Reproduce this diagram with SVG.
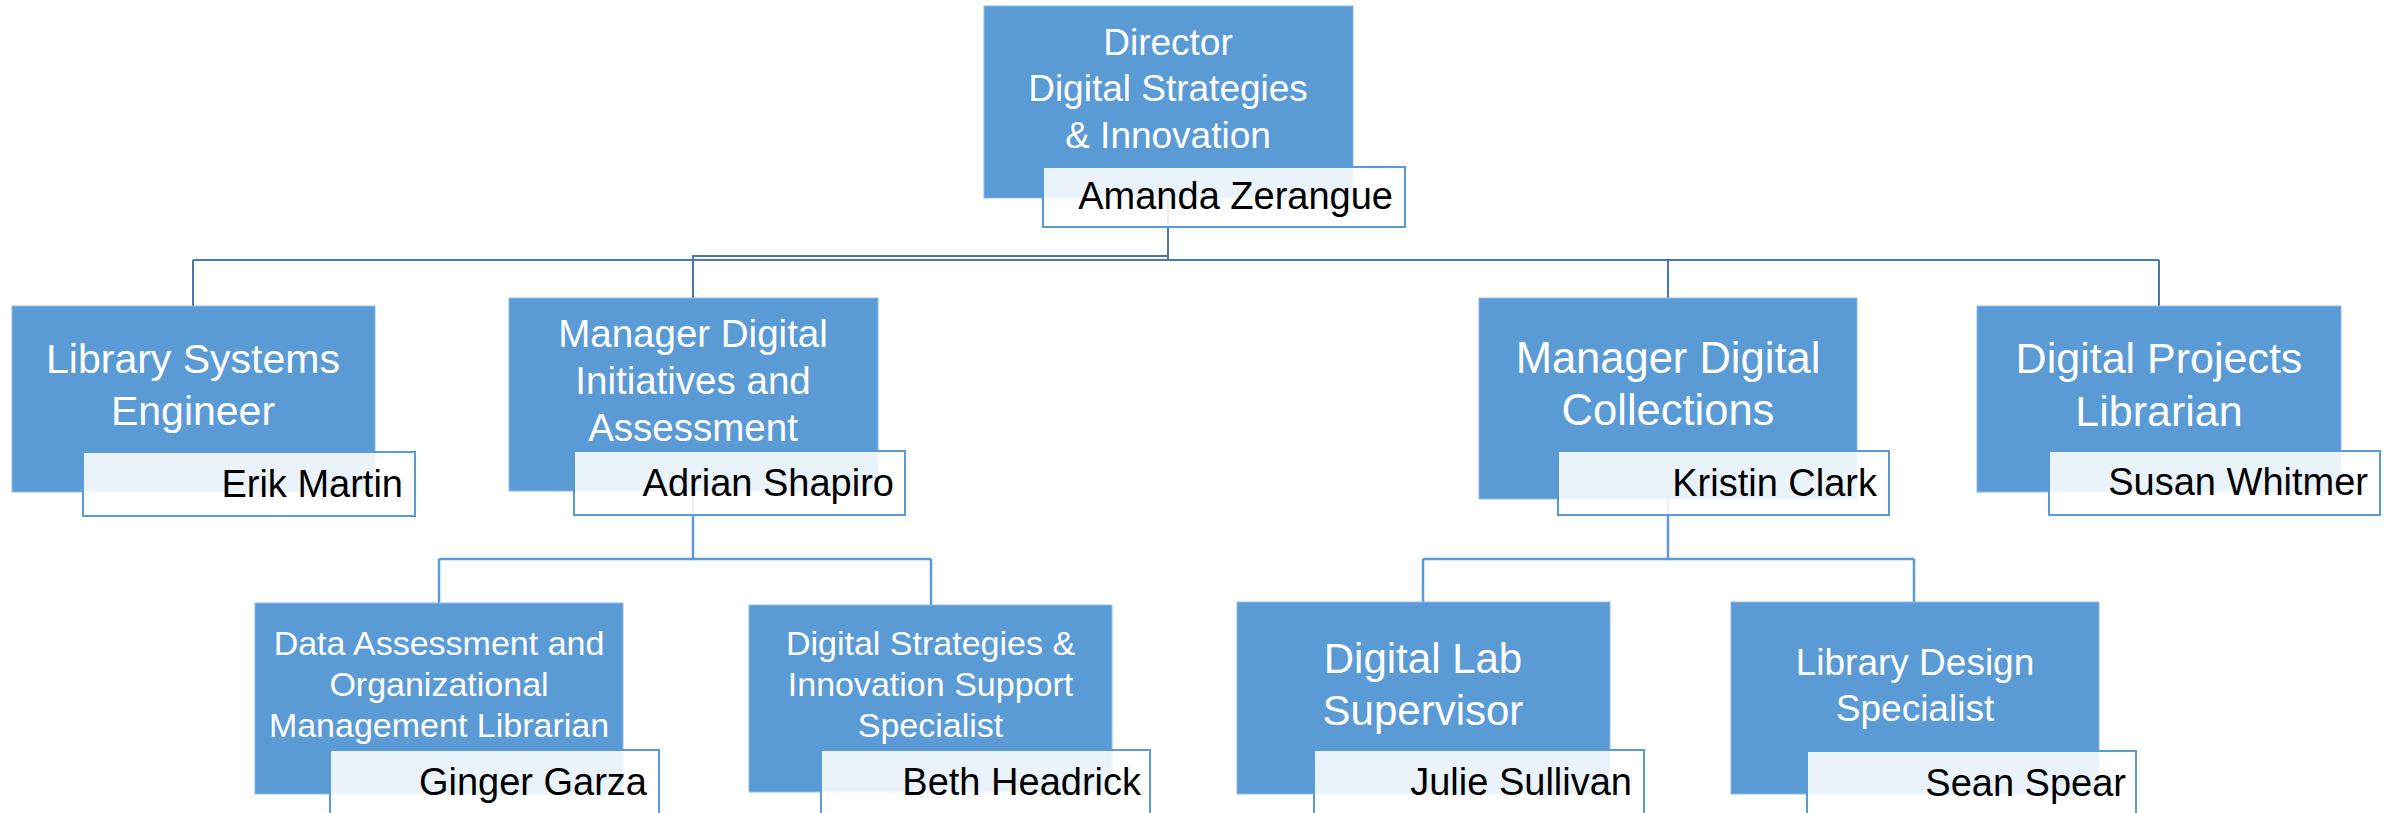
<svg xmlns="http://www.w3.org/2000/svg" width="2392" height="813" viewBox="0 0 2392 813">
<style>
.box{fill:#5B9BD5;stroke:#8DB9E6;stroke-width:1}
.nm{fill:#FFFFFF;fill-opacity:0.88;stroke:#5B9BD5;stroke-width:2}
.t{font-family:"Liberation Sans",Arial,sans-serif;fill:#FFFFFF;text-anchor:middle}
.n{font-family:"Liberation Sans",Arial,sans-serif;fill:#000000;text-anchor:end;font-size:38px}
.c1{fill:none;stroke:#4878AE;stroke-width:2}
.c2{fill:none;stroke:#5B9BD5;stroke-width:2.5}
</style>
<rect width="2392" height="813" fill="#FFFFFF"/>
<g id="connectors">
<path class="c1" d="M1168,198 V260 M193,260 H2159 M193,260 V306 M1668,260 V298 M2159,260 V306"/>
<path class="c1" d="M1168,256 H693 V298" stroke="#5A8CC2"/>
<path class="c2" d="M693,491 V559 M439,559 H931 M439,559 V603 M931,559 V605"/>
<path class="c2" d="M1668,499 V559 M1423,559 H1914 M1423,559 V602 M1914,559 V602"/>
</g>
<g id="n1">
<rect class="box" x="984" y="6" width="369" height="192"/>
<rect class="nm" x="1043" y="167" width="362" height="60"/>
<text class="t" font-size="37" x="1168" y="55">Director</text>
<text class="t" font-size="37" x="1168" y="101">Digital Strategies</text>
<text class="t" font-size="37" x="1168" y="148">&amp; Innovation</text>
<text class="n" x="1393" y="209">Amanda Zerangue</text>
</g>
<g id="n2">
<rect class="box" x="12" y="306" width="363" height="186"/>
<rect class="nm" x="83" y="452" width="332" height="64"/>
<text class="t" font-size="41" x="193" y="373">Library Systems</text>
<text class="t" font-size="41" x="193" y="425">Engineer</text>
<text class="n" x="403" y="497">Erik Martin</text>
</g>
<g id="n3">
<rect class="box" x="509" y="298" width="369" height="193"/>
<rect class="nm" x="574" y="451" width="331" height="64"/>
<text class="t" font-size="38.5" x="693" y="347">Manager Digital</text>
<text class="t" font-size="38.5" x="693" y="394">Initiatives and</text>
<text class="t" font-size="38.5" x="693" y="441">Assessment</text>
<text class="n" x="894" y="496">Adrian Shapiro</text>
</g>
<g id="n4">
<rect class="box" x="1479" y="298" width="378" height="201"/>
<rect class="nm" x="1558" y="451" width="331" height="64"/>
<text class="t" font-size="43.5" x="1668" y="373">Manager Digital</text>
<text class="t" font-size="43.5" x="1668" y="425">Collections</text>
<text class="n" x="1877" y="496">Kristin Clark</text>
</g>
<g id="n5">
<rect class="box" x="1977" y="306" width="364" height="186"/>
<rect class="nm" x="2049" y="451" width="331" height="64"/>
<text class="t" font-size="43" x="2159" y="373">Digital Projects</text>
<text class="t" font-size="43" x="2159" y="426">Librarian</text>
<text class="n" x="2368" y="495">Susan Whitmer</text>
</g>
<g id="n6">
<rect class="box" x="255" y="603" width="368" height="191"/>
<rect class="nm" x="330" y="750" width="329" height="64"/>
<text class="t" font-size="34" x="439" y="655">Data Assessment and</text>
<text class="t" font-size="34" x="439" y="696">Organizational</text>
<text class="t" font-size="34" x="439" y="737">Management Librarian</text>
<text class="n" x="647" y="795">Ginger Garza</text>
</g>
<g id="n7">
<rect class="box" x="749" y="605" width="363" height="187"/>
<rect class="nm" x="821" y="750" width="329" height="64"/>
<text class="t" font-size="34" x="930.5" y="655">Digital Strategies &amp;</text>
<text class="t" font-size="34" x="930.5" y="696">Innovation Support</text>
<text class="t" font-size="34" x="930.5" y="737">Specialist</text>
<text class="n" x="1141" y="795">Beth Headrick</text>
</g>
<g id="n8">
<rect class="box" x="1237" y="602" width="373" height="192"/>
<rect class="nm" x="1314" y="750" width="330" height="64"/>
<text class="t" font-size="42" x="1423" y="673">Digital Lab</text>
<text class="t" font-size="42" x="1423" y="725">Supervisor</text>
<text class="n" x="1632" y="795">Julie Sullivan</text>
</g>
<g id="n9">
<rect class="box" x="1731" y="602" width="368" height="192"/>
<rect class="nm" x="1807" y="751" width="329" height="64"/>
<text class="t" font-size="37" x="1915" y="675">Library Design</text>
<text class="t" font-size="37" x="1915" y="721">Specialist</text>
<text class="n" x="2126" y="796">Sean Spear</text>
</g>
</svg>
